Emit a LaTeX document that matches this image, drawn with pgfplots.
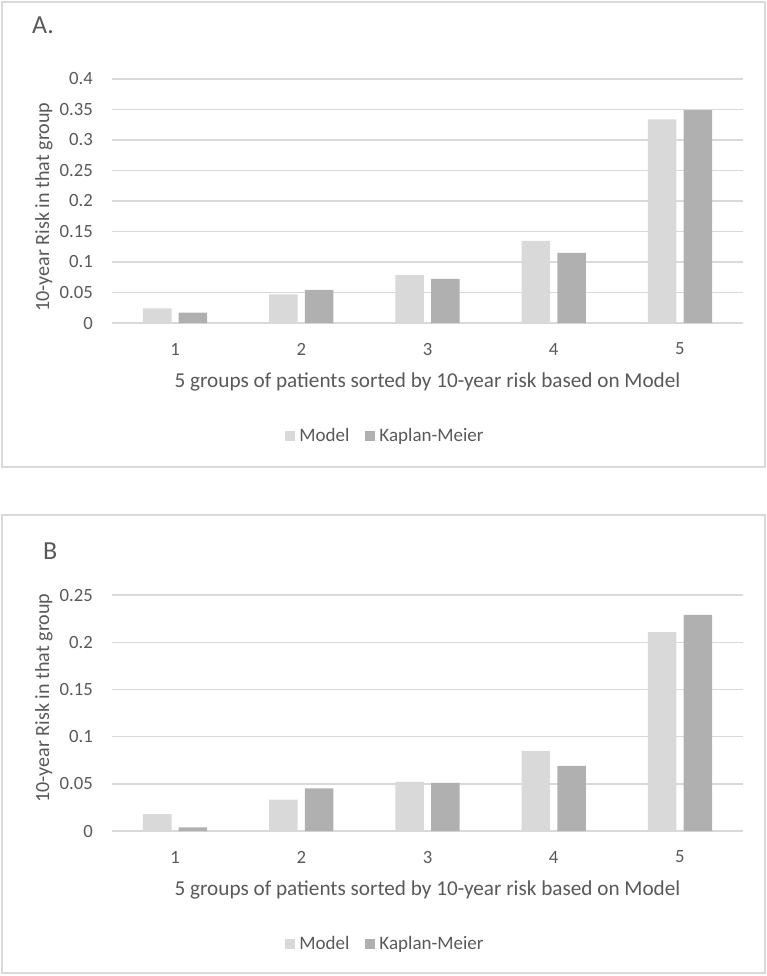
\documentclass[border=0pt]{standalone}
\usepackage{fontspec}
\setmainfont{Carlito}
\usepackage{pgfplots}
\pgfplotsset{compat=1.18}
\definecolor{modelc}{HTML}{D9D9D9}
\definecolor{kmc}{HTML}{B0B0B0}
\definecolor{gridc}{HTML}{D9D9D9}
\definecolor{txt}{HTML}{595959}
\pgfplotsset{
 panel/.style={
  scale only axis, width=631pt, xmin=0.5, xmax=5.5, ymin=0,
  xtick={1,2,3,4,5}, xticklabels={1,2,3,4,5},
  axis line style={draw=none}, major tick length=0pt, tick style={draw=none},
  ymajorgrids, grid style={draw=gridc, line width=1.4pt},
  ybar, bar width=0.226,
  ticklabel style={font=\fontsize{18.7}{22}\selectfont, text=txt},
  yticklabel style={anchor=east, inner sep=0pt},
  yticklabel shift=19pt,
  xticklabel style={anchor=center, inner sep=0pt},
  xticklabel shift=26pt,
  xlabel={5 groups of patients sorted by 10-year risk based on Model},
  ylabel={10-year Risk in that group},
  label style={text=txt, inner sep=0pt},
  xlabel style={font=\fontsize{21.2}{25}\selectfont},
  ylabel style={font=\fontsize{20.1}{24}\selectfont, anchor=base},
  legend columns=2,
  legend style={draw=none, fill=none, font=\fontsize{19}{22}\selectfont, text=txt, anchor=center,
    nodes={inner xsep=4pt},
    /tikz/every even column/.append style={column sep=12pt}},
  legend image code/.code={\fill[#1] (0pt,-5pt) rectangle (10pt,5pt);},
 },
}
\begin{document}
\begin{tikzpicture}
\path[use as bounding box] (0pt,0pt) rectangle (767pt,-976pt);
\draw[gridc, line width=1.5pt] (2pt,-2pt) rectangle (765pt,-467pt);
\draw[gridc, line width=1.5pt] (2pt,-515pt) rectangle (765pt,-973pt);
\node[anchor=base west, inner sep=0pt, text=txt, font=\fontsize{26}{30}\selectfont] at (32pt,-34pt) {A.};
\node[anchor=base west, inner sep=0pt, text=txt, font=\fontsize{26}{30}\selectfont] at (43pt,-559pt) {B};

\begin{axis}[panel, at={(112pt,-323pt)}, anchor=south west, height=244pt, ymax=0.4,
  ytick={0,0.05,0.1,0.15,0.2,0.25,0.3,0.35,0.4},
  yticklabels={0,0.05,0.1,0.15,0.2,0.25,0.3,0.35,0.4},
  xlabel style={at={(axis description cs:0.5,-0.2623)}, anchor=base},
  ylabel style={at={(axis description cs:-0.0998,0.4754)}},
  legend style={at={(axis description cs:0.435,-0.4631)}}]
\addplot[fill=modelc, draw=none, bar shift=-0.1415] coordinates {(1,0.024) (2,0.0468) (3,0.0784) (4,0.1345) (5,0.3337)};
\addlegendentry{Model}
\addplot[fill=kmc, draw=none, bar shift=0.1415] coordinates {(1,0.0169) (2,0.0544) (3,0.0724) (4,0.1149) (5,0.349)};
\addlegendentry{Kaplan-Meier}
\end{axis}

\begin{axis}[panel, at={(112pt,-831pt)}, anchor=south west, height=236pt, ymax=0.25,
  ytick={0,0.05,0.1,0.15,0.2,0.25},
  yticklabels={0,0.05,0.1,0.15,0.2,0.25},
  xlabel style={at={(axis description cs:0.5,-0.2712)}, anchor=base},
  ylabel style={at={(axis description cs:-0.0998,0.5636)}},
  legend style={at={(axis description cs:0.435,-0.4788)}}]
\addplot[fill=modelc, draw=none, bar shift=-0.1415] coordinates {(1,0.0178) (2,0.0332) (3,0.0521) (4,0.0846) (5,0.2108)};
\addlegendentry{Model}
\addplot[fill=kmc, draw=none, bar shift=0.1415] coordinates {(1,0.0038) (2,0.0451) (3,0.051) (4,0.0689) (5,0.229)};
\addlegendentry{Kaplan-Meier}
\end{axis}
\end{tikzpicture}
\end{document}
